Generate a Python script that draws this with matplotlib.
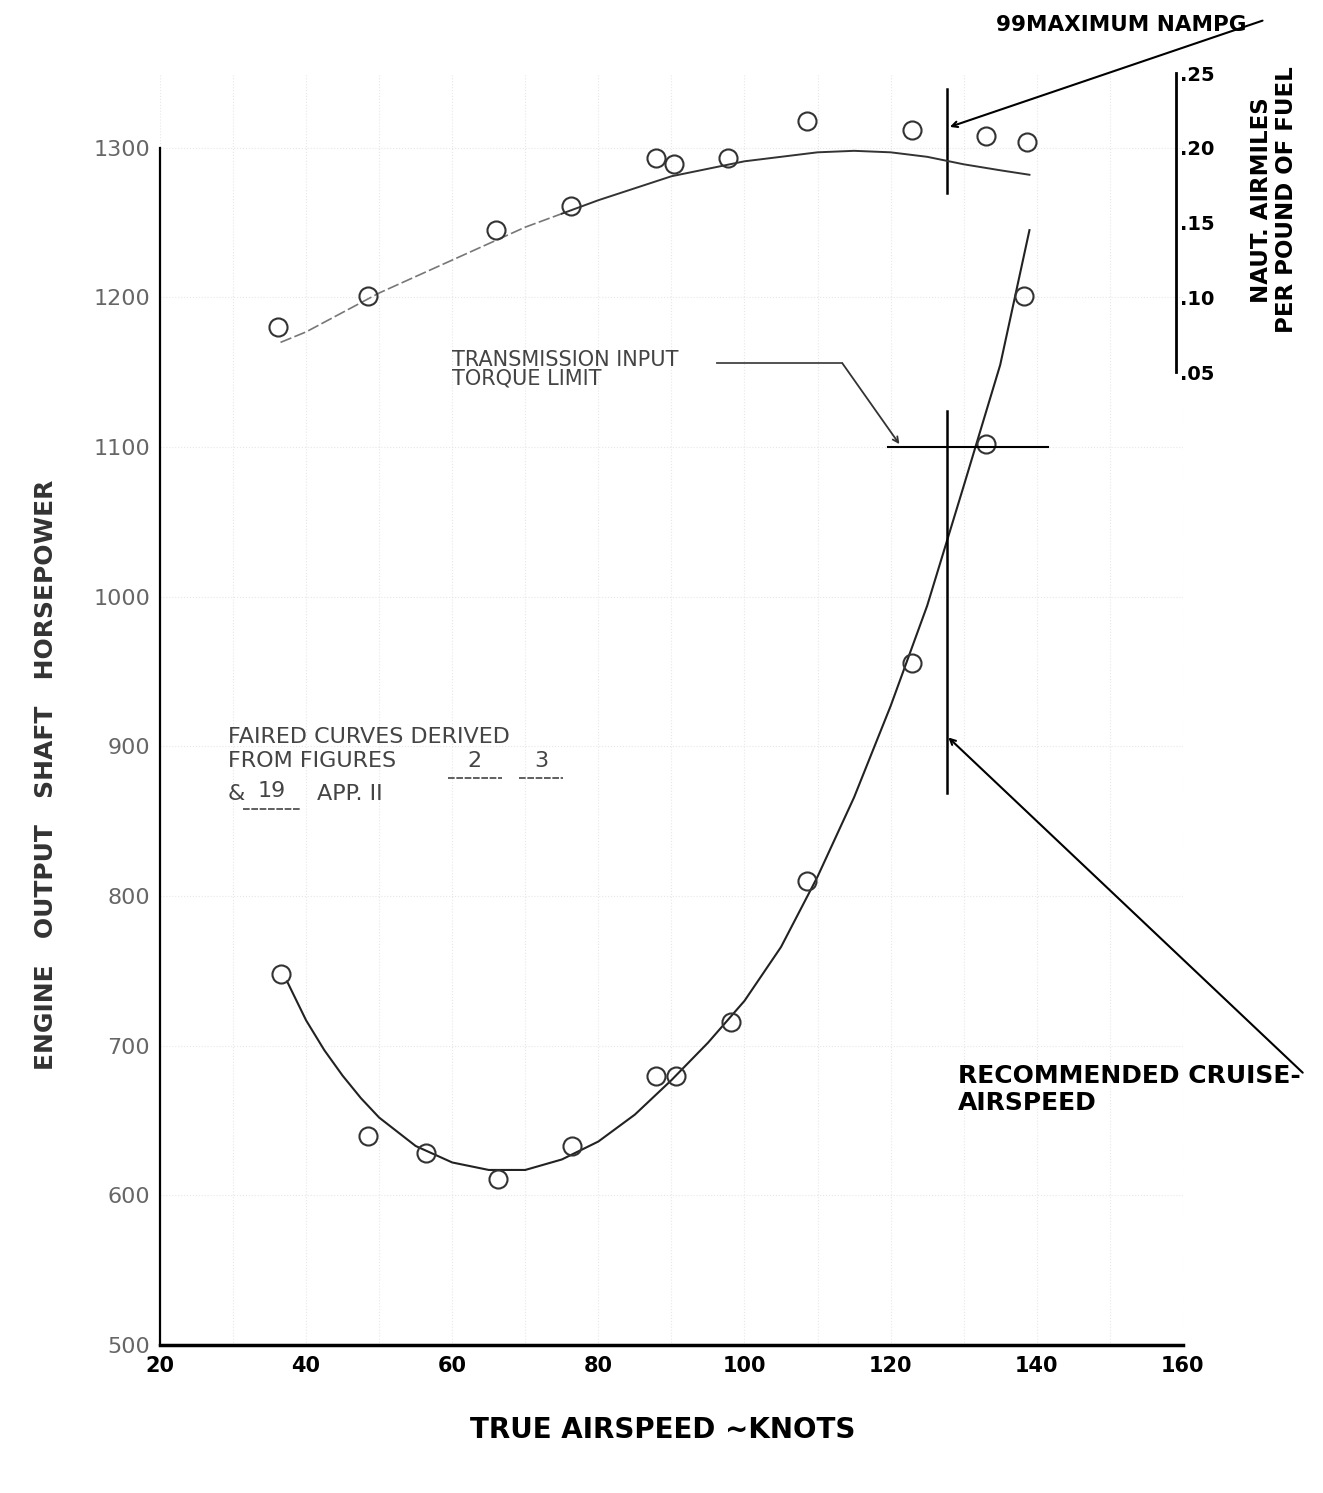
import numpy as np
import matplotlib.pyplot as plt

# test points, engine output shaft horsepower
spd_hp = [36.5, 48.5, 56.4, 66.2, 76.4, 87.9, 90.6, 98.1, 108.6, 122.9, 133.1, 138.3]
shp = [748, 640, 628, 611, 633, 680, 680, 716, 810, 956, 1102, 1201]

# faired power curve
fair_spd = [37.4, 40, 42.5, 45, 47.5, 50, 55, 60, 65, 70, 75, 80, 85, 90, 95, 100, 105, 110, 115, 120, 125, 130, 135, 139]
fair_shp = [743, 717, 697, 680, 665, 652, 633, 622, 617, 617, 624, 636, 654, 677, 702, 730, 766, 813, 866, 927, 994, 1074, 1155, 1245]

# test points, nautical air miles per pound of fuel
spd_mpg = [36.1, 48.5, 66.0, 76.2, 87.9, 90.4, 97.7, 108.6, 122.9, 133.1, 138.6]
mpg = [0.080, 0.101, 0.145, 0.161, 0.193, 0.189, 0.193, 0.218, 0.212, 0.208, 0.204]

# faired range curve
fmpg_spd = [36.5, 40, 45, 50, 55, 60, 65, 70, 75, 80, 85, 90, 95, 100, 105, 110, 115, 120, 125, 130, 135, 139]
fmpg = [0.070, 0.077, 0.090, 0.103, 0.114, 0.125, 0.136, 0.147, 0.156, 0.165, 0.173, 0.181, 0.186, 0.191, 0.194, 0.197, 0.198, 0.197, 0.194, 0.189, 0.185, 0.182]

cruise_spd = 127.7
torque_limit = 1100

x_ticks = [20, 40, 60, 80, 100, 120, 140, 160]
y_ticks = [500, 600, 700, 800, 900, 1000, 1100, 1200, 1300]
r_ticks = [0.05, 0.10, 0.15, 0.20, 0.25]
r_labels = ['.05', '.10', '.15', '.20', '.25']

fig = plt.figure(figsize=(13.23, 14.93), dpi=100)
ax = fig.add_axes([0.1209, 0.0991, 0.7732, 0.852])
ax.set_xlim(20, 160)
ax.set_ylim(500, 1350)

# faint graph paper
ax.set_xticks(np.arange(20, 161, 10), minor=True)
ax.grid(True, which='both', color='#d8d8d8', linestyle=':', linewidth=0.8, alpha=0.6)

ax.spines['top'].set_visible(False)
ax.spines['right'].set_visible(False)
ax.spines['left'].set_bounds(500, 1300)
ax.spines['left'].set_linewidth(1.6)
ax.spines['bottom'].set_linewidth(2.5)

ax.set_xticks(x_ticks)
ax.set_xticklabels([str(v) for v in x_ticks], fontsize=15, fontweight='bold')
ax.set_yticks(y_ticks)
ax.set_yticklabels([str(v) for v in y_ticks], fontsize=16, color='#666666')
ax.tick_params(axis='both', which='both', length=0)
ax.tick_params(axis='y', pad=7)
ax.tick_params(axis='x', pad=8)

ax.set_xlabel('TRUE AIRSPEED ~KNOTS', fontsize=20, fontweight='bold')
ax.xaxis.set_label_coords(0.491, -0.056)
ax.set_ylabel('ENGINE   OUTPUT   SHAFT   HORSEPOWER', fontsize=18, fontweight='bold',
              color='#333333')
ax.yaxis.set_label_coords(-0.100, 0.448)

# power curve and points
ax.plot(fair_spd, fair_shp, color='#222222', linewidth=1.5)
ax.plot(spd_hp, shp, 'o', mfc='none', mec='#333333', mew=1.5, markersize=13)

# right scale: air miles per pound of fuel
ax2 = ax.twinx()
ax2.set_ylim(-0.60, 0.25)
ax2.set_xlim(20, 160)
for s in ['top', 'left', 'bottom']:
    ax2.spines[s].set_visible(False)
ax2.spines['right'].set_position(('axes', 0.993))
ax2.spines['right'].set_bounds(0.05, 0.25)
ax2.spines['right'].set_linewidth(2)
ax2.set_yticks(r_ticks)
ax2.set_yticklabels(r_labels, fontsize=14, fontweight='bold')
ax2.tick_params(axis='y', length=0, pad=3)
# left part of the faired line is faint on the original
n_faint = 9
ax2.plot(fmpg_spd[:n_faint], fmpg[:n_faint], color='#777777', linewidth=1.2, linestyle=(0, (7, 2)))
ax2.plot(fmpg_spd[n_faint - 1:], fmpg[n_faint - 1:], color='#333333', linewidth=1.4)
ax2.plot(spd_mpg, mpg, 'o', mfc='none', mec='#333333', mew=1.5, markersize=13)

fig.text(0.963, 0.866, 'NAUT. AIRMILES\nPER POUND OF FUEL', rotation=90, fontsize=16.5,
         fontweight='bold', ha='center', va='center', linespacing=1.1)

# recommended cruise airspeed marks
ax.plot([cruise_spd, cruise_spd], [1270, 1339], color='black', linewidth=1.8)
ax.plot([cruise_spd, cruise_spd], [869, 1124], color='black', linewidth=1.8)

# transmission torque limit
ax.plot([119.6, 141.5], [torque_limit, torque_limit], color='black', linewidth=1.5)
ax.annotate('', xy=(121.2, 1102), xytext=(113.4, 1156),
            arrowprops=dict(arrowstyle='->', color='#333333', lw=1.3, shrinkA=0, shrinkB=0))
ax.plot([96.2, 113.4], [1156, 1156], color='#444444', linewidth=1.3)
ax.text(60.0, 1152, 'TRANSMISSION INPUT\nTORQUE LIMIT', fontsize=15, color='#444444',
        ha='left', va='center', linespacing=0.95)

# maximum NAMPG arrow
ax.text(168.7, 1382, '99MAXIMUM NAMPG', fontsize=15.5, fontweight='bold',
        ha='right', va='center', clip_on=False)
ax.annotate('', xy=(128.1, 1314), xytext=(170.9, 1385),
            arrowprops=dict(arrowstyle='->', color='black', lw=1.5, shrinkA=0, shrinkB=0),
            annotation_clip=False)

# recommended cruise arrow
ax.annotate('', xy=(127.9, 906), xytext=(176.4, 682),
            arrowprops=dict(arrowstyle='->', color='black', lw=1.5, shrinkA=0, shrinkB=0),
            annotation_clip=False)
ax.text(129.2, 671, 'RECOMMENDED CRUISE-\nAIRSPEED', fontsize=18, fontweight='bold',
        ha='left', va='center', linespacing=1.15, clip_on=False)

# note on source figures
note_kw = dict(fontsize=16, color='#444444', va='center')
ax.text(29.3, 906, 'FAIRED CURVES DERIVED', ha='left', **note_kw)
ax.text(29.3, 890, 'FROM FIGURES', ha='left', **note_kw)
ax.text(63.1, 890, '2', ha='center', **note_kw)
ax.text(72.2, 890, '3', ha='center', **note_kw)
ax.text(29.3, 868, '&', ha='left', **note_kw)
ax.text(35.3, 870, '19', ha='center', **note_kw)
ax.text(41.5, 868, 'APP. II', ha='left', **note_kw)
for x0, x1, y0 in [(59.4, 66.8, 879), (69.2, 75.1, 879), (31.4, 39.2, 858)]:
    ax.plot([x0, x1], [y0, y0], color='#444444', linewidth=1.2, linestyle=(0, (4, 1)))

plt.savefig('out.png', dpi=100)
